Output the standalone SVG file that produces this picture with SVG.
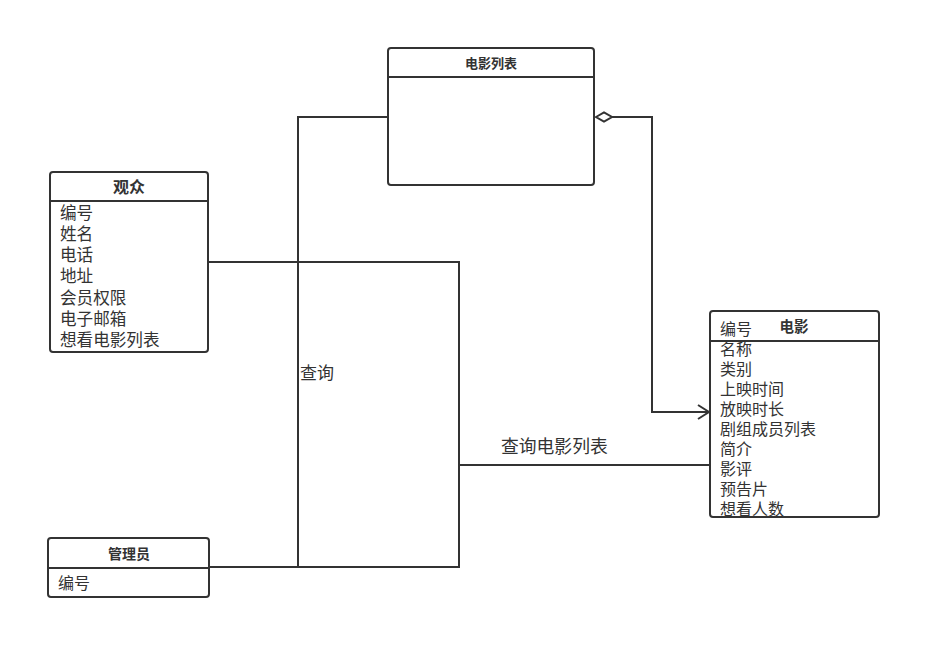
<svg xmlns="http://www.w3.org/2000/svg" width="941" height="660" viewBox="0 0 941 660">
<style>
.box{fill:#fff;stroke:#333;stroke-width:2}
.sep{stroke:#333;stroke-width:2}
.t{font-family:"Noto Sans CJK SC","Noto Sans",sans-serif;fill:#333}
.title{font-weight:bold;text-anchor:middle}
.attr{font-size:16px}
.attr2{font-size:16.6px}
.conn{fill:none;stroke:#333;stroke-width:2}
</style>
<defs>
<clipPath id="cpMovie"><rect x="710" y="311" width="169" height="205"/></clipPath>
</defs>
<rect width="941" height="660" fill="#fff"/>
<g id="connectors">
<polyline class="conn" points="388,117 298,117 298,567 209,567"/>
<polyline class="conn" points="208,262 459,262 459,567 209,567"/>
<polyline class="conn" points="459,465 710,465"/>
<polyline class="conn" points="612,117 652,117 652,412 708,412"/>
<polygon points="596,117 604,112.5 612,117 604,121.5" fill="#fff" stroke="#333" stroke-width="2"/>
<polyline class="conn" points="698,405 709,412 698,419"/>
<text class="t" x="300" y="379" font-size="17">查询</text>
<text class="t" x="501" y="453" font-size="17.8">查询电影列表</text>
</g>
<g id="movieList">
<rect class="box" x="388" y="48" width="206" height="137" rx="3"/>
<line class="sep" x1="388" y1="77" x2="594" y2="77"/>
<text class="t title" x="491" y="68" font-size="13">电影列表</text>
</g>
<g id="audience">
<rect class="box" x="50" y="172" width="158" height="180" rx="3"/>
<line class="sep" x1="50" y1="201" x2="208" y2="201"/>
<text class="t title" x="129" y="193" font-size="16">观众</text>
<text class="t attr2" x="60" y="219">编号</text>
<text class="t attr2" x="60" y="240">姓名</text>
<text class="t attr2" x="60" y="261">电话</text>
<text class="t attr2" x="60" y="282">地址</text>
<text class="t attr2" x="60" y="304">会员权限</text>
<text class="t attr2" x="60" y="325">电子邮箱</text>
<text class="t attr2" x="60" y="346">想看电影列表</text>
</g>
<g id="admin">
<rect class="box" x="48" y="538" width="161" height="59" rx="3"/>
<line class="sep" x1="48" y1="568" x2="209" y2="568"/>
<text class="t title" x="129" y="559" font-size="14">管理员</text>
<text class="t attr" x="58" y="589">编号</text>
</g>
<g id="movie">
<rect class="box" x="710" y="311" width="169" height="206" rx="3"/>
<line class="sep" x1="710" y1="341" x2="879" y2="341"/>
<text class="t title" x="794" y="332" font-size="14.5">电影</text>
<g clip-path="url(#cpMovie)">
<text class="t attr" x="720" y="335">编号</text>
<text class="t attr" x="720" y="355">名称</text>
<text class="t attr" x="720" y="375">类别</text>
<text class="t attr" x="720" y="395">上映时间</text>
<text class="t attr" x="720" y="415">放映时长</text>
<text class="t attr" x="720" y="435">剧组成员列表</text>
<text class="t attr" x="720" y="455">简介</text>
<text class="t attr" x="720" y="475">影评</text>
<text class="t attr" x="720" y="495">预告片</text>
<text class="t attr" x="720" y="515">想看人数</text>
</g>
</g>
</svg>
